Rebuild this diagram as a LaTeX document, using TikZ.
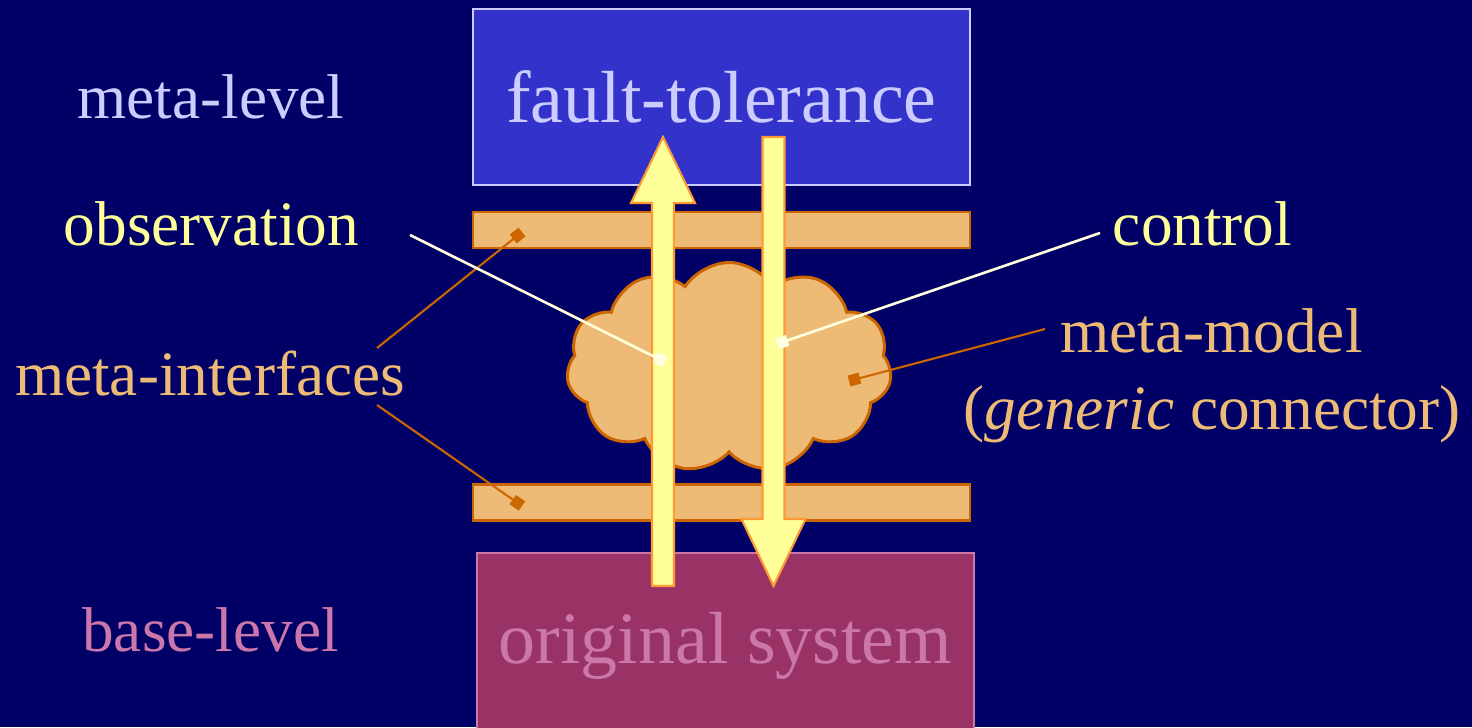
\documentclass[tikz,border=0pt]{standalone}
\usepackage{fontspec}
\setmainfont{Liberation Serif}
\usetikzlibrary{positioning,shapes.symbols,arrows.meta}

\definecolor{navy}{HTML}{000066}
\definecolor{metablue}{HTML}{3333CC}
\definecolor{lavender}{HTML}{CCCCFF}
\definecolor{plum}{HTML}{993366}
\definecolor{rose}{HTML}{CC77AA}
\definecolor{tan}{HTML}{EEBB77}
\definecolor{rust}{HTML}{CC6600}
\definecolor{lemon}{HTML}{FFFF99}
\definecolor{amber}{HTML}{FF9933}
\definecolor{cream}{HTML}{FFFFDD}

\begin{document}
\begin{tikzpicture}[every text node part/.style={align=center}]

\tikzstyle{level} = [rectangle,draw,line width=.45pt,inner sep=0,minimum width=4.97cm,font=\fontsize{21}{25}\selectfont]
\tikzstyle{iface} = [rectangle,draw=rust,fill=tan,line width=.6pt,inner sep=0,minimum width=4.97cm,minimum height=.36cm]
\tikzstyle{blob} = [cloud,cloud puffs=11,cloud puff arc=115,cloud ignores aspect,draw=rust,fill=tan,line width=.85pt,inner sep=0,minimum width=3.25cm,minimum height=2.1cm]
\tikzstyle{bigarrow} = [draw=amber,fill=lemon,line width=.6pt]
\tikzstyle{caption} = [anchor=base,font=\fontsize{18}{21.6}\selectfont]
\tikzstyle{pointer} = [draw=rust,line width=.6pt,-{Square[length=3.2pt,width=3.2pt]}]
\tikzstyle{hint} = [pointer,draw=cream,line width=.75pt]

\fill [navy] (0,0) rectangle (14.72,7.27);
\clip (0,0) rectangle (14.72,7.27);

% levels
\node [level, fill=metablue, draw=lavender, text=lavender, minimum height=1.76cm] (ft) at (7.215,6.30) {fault-tolerance};
\node [level, fill=plum, draw=rose, text=rose, minimum height=1.86cm] (orig) at (7.255,0.81) {original system};

% meta-interfaces and meta-model
\node [iface] (upper) at (7.215,4.97) {};
\node [iface] (lower) at (7.215,2.245) {};
\node [blob] (model) at (7.29,3.595) {};

% observation goes up, control goes down
\draw [bigarrow] (6.52,1.41) -- (6.52,5.24) -- (6.31,5.24) -- (6.63,5.90) -- (6.95,5.24) -- (6.74,5.24) -- (6.74,1.41) -- cycle;
\draw [bigarrow] (7.625,5.90) -- (7.625,2.08) -- (7.415,2.08) -- (7.735,1.41) -- (8.055,2.08) -- (7.845,2.08) -- (7.845,5.90) -- cycle;

% captions
\node [caption, text=lavender] (meta) at (2.11,6.08) {meta-level};
\node [caption, text=lemon] (obs) at (2.115,4.81) {observation};
\node [caption, text=tan] (ifaces) at (2.10,3.31) {meta-interfaces};
\node [caption, text=rose] (base) at (2.105,0.76) {base-level};
\node [caption, text=lemon] (ctrl) at (12.025,4.81) {control};
\node [caption, text=tan] (mm) at (12.115,3.74) {meta-model};
\node [caption, text=tan] (generic) at (12.12,2.98) {(\textit{generic} connector)};

% pointer ends
\coordinate (obs-from) at (4.10,4.92);
\coordinate (obs-to) at (6.65,3.65);
\coordinate (ctrl-from) at (11.00,4.94);
\coordinate (ctrl-to) at (7.77,3.83);
\coordinate (up-from) at (3.77,3.79);
\coordinate (up-to) at (5.22,4.95);
\coordinate (low-from) at (3.77,3.22);
\coordinate (low-to) at (5.22,2.21);
\coordinate (mm-from) at (10.45,3.98);
\coordinate (mm-to) at (8.49,3.46);

\draw [pointer] (up-from) -- (up-to);
\draw [pointer] (low-from) -- (low-to);
\draw [pointer] (mm-from) -- (mm-to);
\draw [hint] (obs-from) -- (obs-to);
\draw [hint] (ctrl-from) -- (ctrl-to);
\end{tikzpicture}
\end{document}
